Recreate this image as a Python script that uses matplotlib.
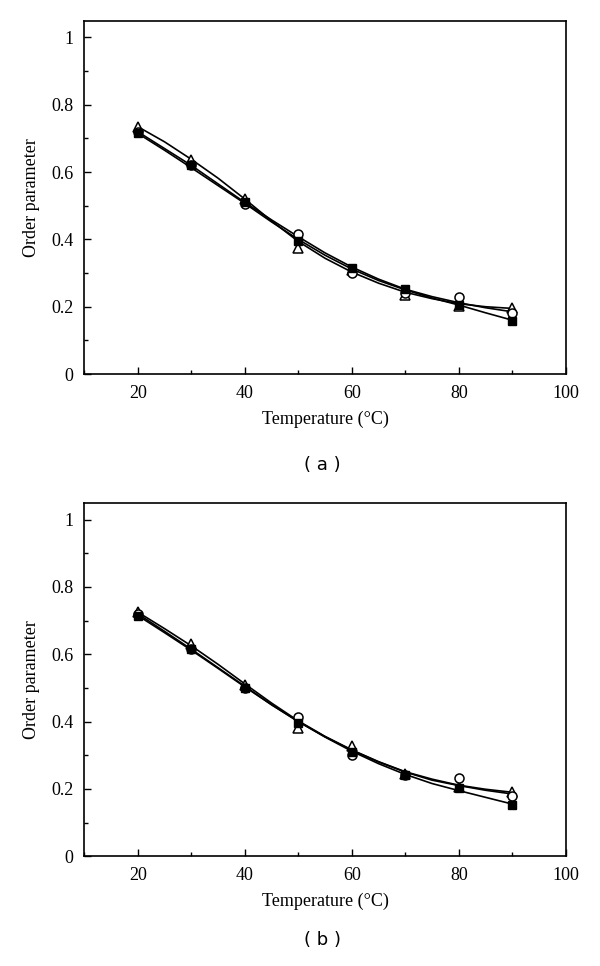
import matplotlib.pyplot as plt
from matplotlib.ticker import MultipleLocator

# measured points
temp = [20, 30, 40, 50, 60, 70, 80, 90]

a_circle = [0.720, 0.620, 0.505, 0.415, 0.300, 0.240, 0.230, 0.182]
a_square = [0.715, 0.620, 0.510, 0.395, 0.315, 0.253, 0.205, 0.158]
a_triangle = [0.735, 0.635, 0.520, 0.375, 0.310, 0.235, 0.203, 0.197]

b_circle = [0.720, 0.615, 0.500, 0.415, 0.300, 0.240, 0.233, 0.180]
b_square = [0.715, 0.615, 0.500, 0.395, 0.310, 0.240, 0.203, 0.153]
b_triangle = [0.725, 0.630, 0.510, 0.380, 0.328, 0.245, 0.205, 0.192]

# fitted curves, read every 5 degrees
fit_temp = [20, 25, 30, 35, 40, 45, 50, 55, 60, 65, 70, 75, 80, 85, 90]

a_fit_circle = [0.720, 0.670, 0.620, 0.565, 0.510, 0.458, 0.408, 0.360, 0.318, 0.282, 0.252, 0.230, 0.212, 0.197, 0.185]
a_fit_square = [0.715, 0.665, 0.613, 0.560, 0.507, 0.452, 0.400, 0.353, 0.312, 0.278, 0.250, 0.226, 0.205, 0.182, 0.160]
a_fit_triangle = [0.735, 0.690, 0.638, 0.582, 0.520, 0.455, 0.394, 0.344, 0.303, 0.270, 0.243, 0.224, 0.209, 0.200, 0.195]

b_fit_circle = [0.720, 0.668, 0.615, 0.560, 0.505, 0.450, 0.400, 0.355, 0.315, 0.280, 0.250, 0.226, 0.210, 0.196, 0.185]
b_fit_square = [0.715, 0.664, 0.612, 0.558, 0.503, 0.450, 0.400, 0.354, 0.312, 0.275, 0.243, 0.216, 0.195, 0.175, 0.155]
b_fit_triangle = [0.725, 0.676, 0.625, 0.570, 0.512, 0.455, 0.402, 0.356, 0.316, 0.281, 0.251, 0.229, 0.211, 0.199, 0.190]

x_ticks = [20, 40, 60, 80, 100]
y_ticks = [0, 0.2, 0.4, 0.6, 0.8, 1.0]
y_tick_labels = ["0", "0.2", "0.4", "0.6", "0.8", "1"]

plt.rcParams["font.family"] = ["Liberation Serif", "DejaVu Serif"]

fig = plt.figure(figsize=(6, 9.66), dpi=100)


def panel(ax, circ, sq, tri, fc, fs, ft):
    ax.plot(fit_temp, fc, color="black", lw=1.2)
    ax.plot(fit_temp, fs, color="black", lw=1.2)
    ax.plot(fit_temp, ft, color="black", lw=1.2)
    ax.plot(temp, tri, ls="none", marker="^", ms=6.5, mfc="white", mec="black", mew=1.1)
    ax.plot(temp, circ, ls="none", marker="o", ms=6.5, mfc="white", mec="black", mew=1.1)
    ax.plot(temp, sq, ls="none", marker="s", ms=5.5, mfc="black", mec="black")
    ax.set_xlim(10, 100)
    ax.set_ylim(0, 1.05)
    ax.set_xticks(x_ticks)
    ax.set_yticks(y_ticks)
    ax.set_yticklabels(y_tick_labels)
    ax.xaxis.set_minor_locator(MultipleLocator(10))
    ax.yaxis.set_minor_locator(MultipleLocator(0.1))
    ax.tick_params(which="both", direction="in", labelsize=13, width=1)
    ax.tick_params(which="major", length=5, pad=8)
    ax.tick_params(which="minor", length=3)
    ax.tick_params(axis="y", pad=8)
    for s in ax.spines.values():
        s.set_linewidth(1.2)
    ax.set_xlabel("Temperature (°C)", fontsize=13, labelpad=6)
    ax.set_ylabel("Order parameter", fontsize=13, labelpad=8)


ax1 = fig.add_axes([0.1405, 0.6128, 0.8025, 0.3658])
panel(ax1, a_circle, a_square, a_triangle, a_fit_circle, a_fit_square, a_fit_triangle)
ax2 = fig.add_axes([0.1405, 0.1136, 0.8025, 0.3660])
panel(ax2, b_circle, b_square, b_triangle, b_fit_circle, b_fit_square, b_fit_triangle)

fig.text(0.538, 0.519, "( a )", ha="center", va="center", fontsize=13, family="DejaVu Sans")
fig.text(0.538, 0.027, "( b )", ha="center", va="center", fontsize=13, family="DejaVu Sans")

fig.savefig("out.png", dpi=100)
